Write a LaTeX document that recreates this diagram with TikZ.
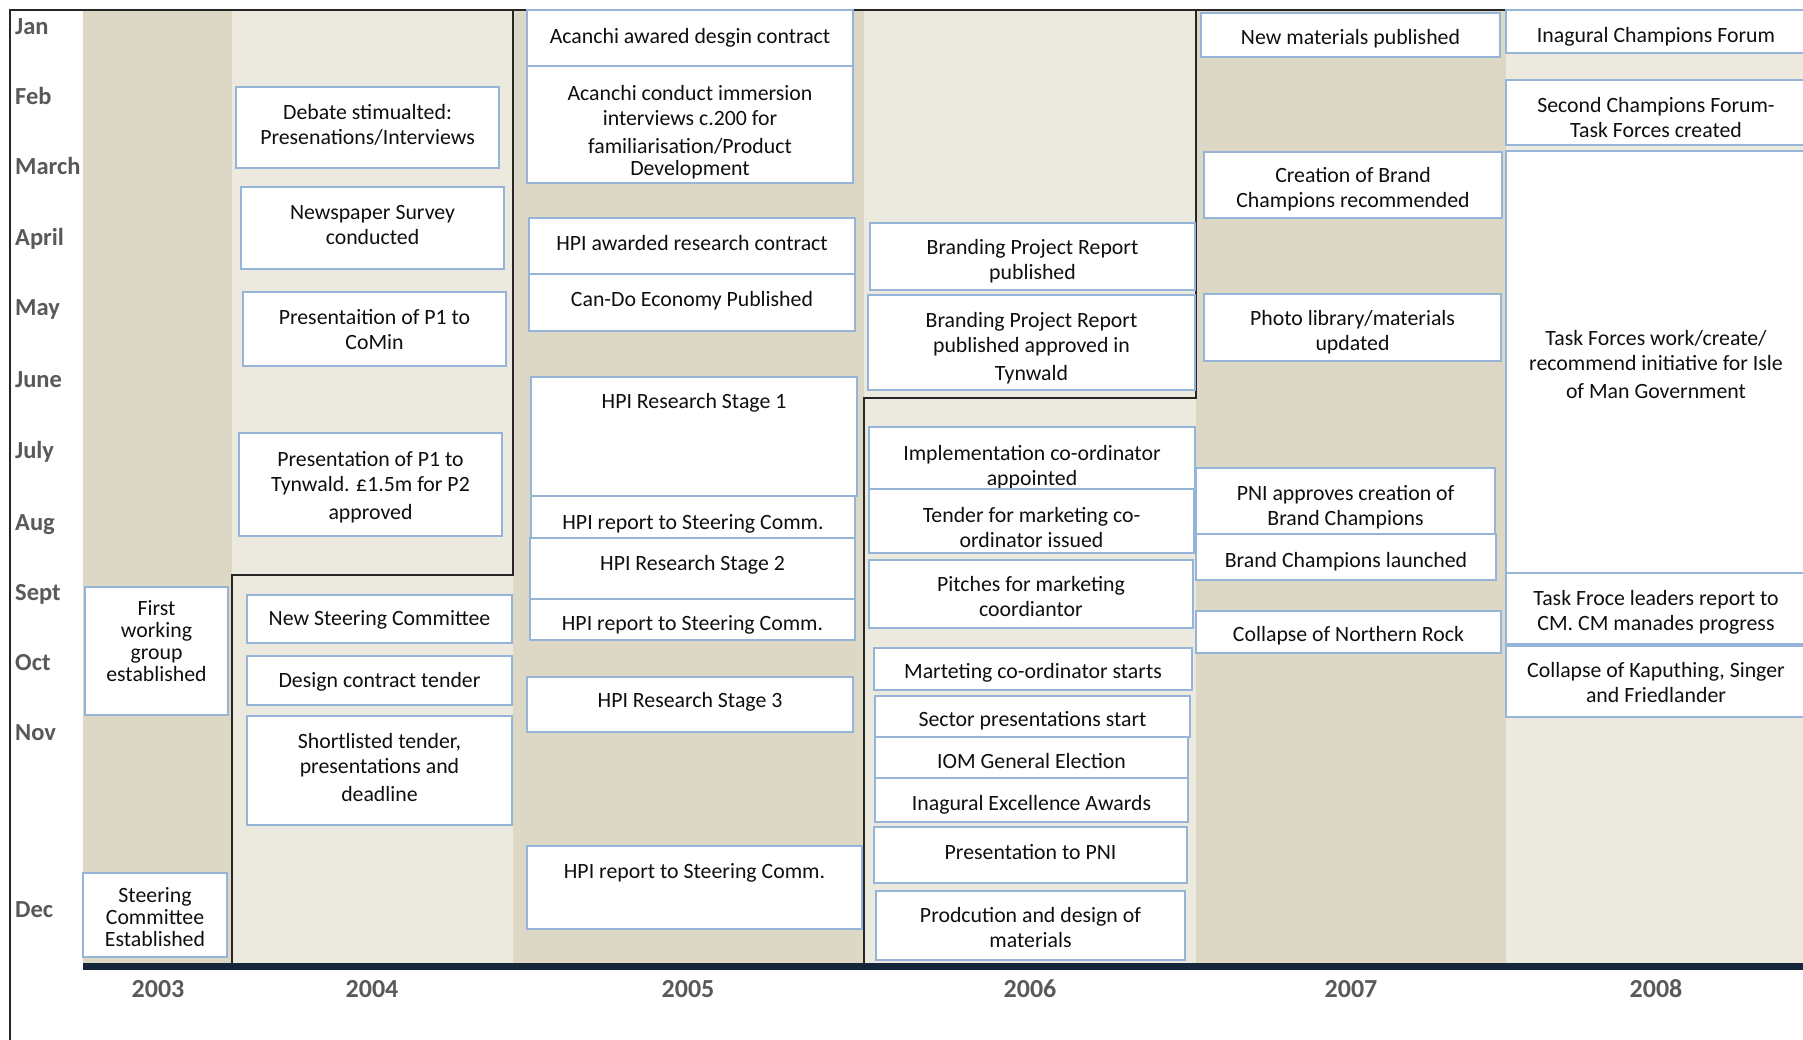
\documentclass[tikz,border=0pt]{standalone}
\usepackage{fontspec}
\setmainfont{Carlito}
\usetikzlibrary{fit}
\definecolor{darkcol}{RGB}{221,216,198}
\definecolor{lightcol}{RGB}{236,234,223}
\definecolor{boxline}{RGB}{150,180,216}
\definecolor{axiscol}{RGB}{22,38,58}
\definecolor{labelgray}{RGB}{89,89,89}
\definecolor{txt}{RGB}{15,15,15}
\newcommand{\ev}[7]{%
  \node[evbox, fit={(#2,#3) (#4,#5)}] (#1) {};
  \node[evtext] (#1t) at ({(#2+#4)/2},#6+2.5) {\strut #7\strut};
}
\begin{document}
\begin{tikzpicture}[x=1pt,y=-1pt,
  evbox/.style={draw=boxline, line width=2pt, fill=white, inner sep=0pt, outer sep=0pt},
  evtext/.style={font=\fontsize{21.8}{25}\selectfont, align=center, text=txt, inner sep=0pt},
  month/.style={font=\fontsize{24.5}{28}\selectfont\bfseries, text=labelgray, anchor=base west, inner sep=0pt},
  year/.style={font=\fontsize{26}{30}\selectfont\bfseries, text=labelgray, anchor=center, inner sep=0pt},
  frameline/.style={line width=2pt, draw=black!85}]

\useasboundingbox (0,0) rectangle (1803,1040);
\fill[white] (0,0) rectangle (1803,1040);

% year columns
\fill[darkcol]  (83,10)   rectangle (232,963);
\fill[lightcol] (232,10)  rectangle (513,963);
\fill[darkcol]  (513,10)  rectangle (864,963);
\fill[lightcol] (864,10)  rectangle (1196,963);
\fill[darkcol]  (1196,10) rectangle (1506,963);
\fill[lightcol] (1506,10) rectangle (1803,963);

% frame lines
\draw[frameline] (10,1040) -- (10,10) -- (1506,10);
\draw[frameline] (513,10) -- (513,575) -- (232,575) -- (232,963);
\draw[frameline] (1196,10) -- (1196,398) -- (864,398) -- (864,963);

% axis
\draw[axiscol, line width=7pt] (83,966.5) -- (1803,966.5);

% months
\foreach \m/\yy in {Jan/27, Feb/97, March/167, April/238, May/308, June/379, July/450, Aug/522, Sept/592, Oct/662, Nov/732, Dec/909}
  \node[month] (m\m) at (15,\yy+8) {\m};

% years
\node[year] (y2003) at (158,989) {2003};
\node[year] (y2004) at (372,989) {2004};
\node[year] (y2005) at (688,989) {2005};
\node[year] (y2006) at (1030,989) {2006};
\node[year] (y2007) at (1351,989) {2007};
\node[year] (y2008) at (1656,989) {2008};

% 2003
\ev{b1}{85}{587}{228}{715}{640.5}{First\\[-3pt]working\\[-3pt]group\\[-3pt]established}
\ev{b2}{83}{873}{227}{957}{916.5}{Steering\\[-3pt]Committee\\[-3pt]Established}

% 2004
\ev{b3}{236}{87}{499}{168}{125}{Debate stimualted:\\Presenations/Interviews}
\ev{b4}{241}{187}{504}{269}{225}{Newspaper Survey\\conducted}
\ev{b5}{243}{292}{506}{366}{329.5}{Presentaition of P1 to\\CoMin}
\ev{b6}{239}{433}{502}{536}{485}{Presentation of P1 to\\Tynwald. £1.5m for P2\\[3pt]approved}
\ev{b7}{247}{595}{512}{643}{618}{New Steering Committee}
\ev{b8}{247}{656}{512}{705}{680}{Design contract tender}
\ev{b9}{247}{716}{512}{825}{767}{Shortlisted tender,\\presentations and\\[3pt]deadline}

% 2005
\ev{b10}{527}{10}{853}{66}{36}{Acanchi awared desgin contract}
\ev{b11}{527}{66}{853}{183}{130.5}{Acanchi conduct immersion\\interviews c.200 for\\[3pt]familiarisation/Product\\[-3pt]Development}
\ev{b12}{529}{218}{855}{274}{243}{HPI awarded research contract}
\ev{b13}{529}{274}{855}{331}{299}{Can-Do Economy Published}
\ev{b14}{531}{377}{857}{496}{401}{HPI Research Stage 1}
\ev{b15}{531}{496}{855}{538}{522}{HPI report to Steering Comm.}
\ev{b16}{530}{538}{855}{599}{563}{HPI Research Stage 2}
\ev{b17}{530}{599}{855}{640}{623}{HPI report to Steering Comm.}
\ev{b18}{527}{677}{853}{732}{700}{HPI Research Stage 3}
\ev{b19}{527}{846}{862}{929}{871}{HPI report to Steering Comm.}

% 2006
\ev{b20}{870}{223}{1195}{290}{260}{Branding Project Report\\published}
\ev{b21}{868}{295}{1195}{390}{346.5}{Branding Project Report\\published approved in\\[3pt]Tynwald}
\ev{b22}{869}{427}{1195}{489}{465}{Implementation co-ordinator\\appointed}
\ev{b23}{869}{489}{1194}{553}{527}{Tender for marketing co-\\ordinator issued}
\ev{b24}{869}{560}{1193}{628}{596}{Pitches for marketing\\coordiantor}
\ev{b25}{874}{648}{1192}{690}{671}{Marteting co-ordinator starts}
\ev{b26}{875}{696}{1190}{737}{719}{Sector presentations start}
\ev{b27}{875}{737}{1188}{778}{761}{IOM General Election}
\ev{b28}{875}{778}{1188}{822}{803}{Inagural Excellence Awards}
\ev{b29}{874}{827}{1187}{883}{852}{Presentation to PNI}
\ev{b30}{876}{891}{1185}{960}{927}{Prodcution and design of\\materials}

% 2007
\ev{b31}{1201}{13}{1500}{57}{37}{New materials published}
\ev{b32}{1204}{152}{1502}{218}{188}{Creation of Brand\\Champions recommended}
\ev{b33}{1204}{294}{1501}{361}{330.5}{Photo library/materials\\updated}
\ev{b34}{1196}{468}{1495}{534}{505}{PNI approves creation of\\Brand Champions}
\ev{b35}{1196}{534}{1496}{580}{560}{Brand Champions launched}
\ev{b36}{1196}{611}{1501}{653}{634}{Collapse of Northern Rock}

% 2008
\ev{b37}{1506}{10}{1806}{53}{35}{Inagural Champions Forum}
\ev{b38}{1506}{80}{1806}{145}{118}{Second Champions Forum-\\Task Forces created}
\ev{b39}{1506}{151}{1806}{573}{364}{Task Forces work/create/\\recommend initiative for Isle\\[3pt]of Man Government}
\ev{b40}{1506}{573}{1806}{644}{610}{Task Froce leaders report to\\CM. CM manades progress}
\ev{b41}{1506}{646}{1806}{717}{682}{Collapse of Kaputhing, Singer\\and Friedlander}
\end{tikzpicture}
\end{document}
